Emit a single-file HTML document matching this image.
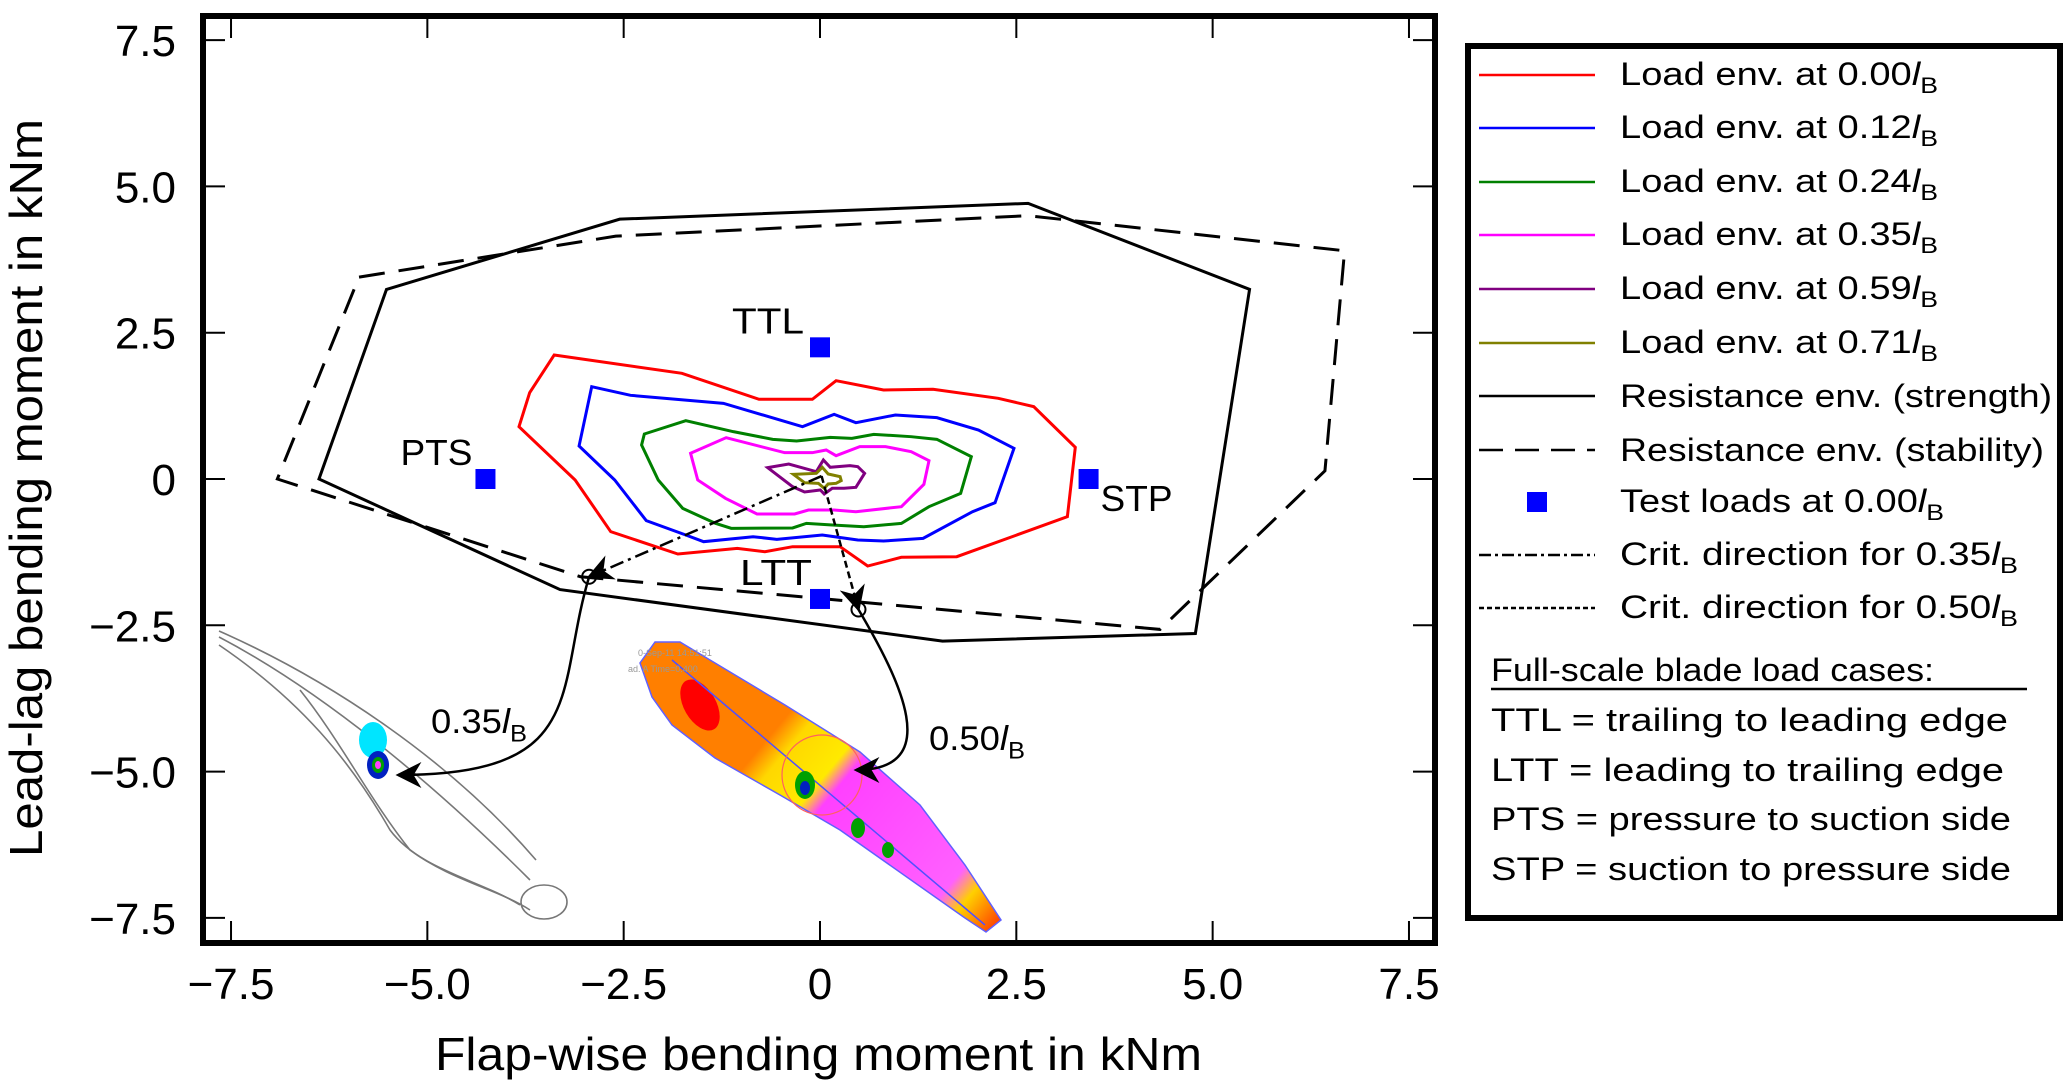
<!DOCTYPE html>
<html><head><meta charset="utf-8"><style>
html,body{margin:0;padding:0;background:#fff;}
svg text{font-family:"Liberation Sans",sans-serif;}
</style></head><body>
<svg id="chart" width="2067" height="1085" viewBox="0 0 2067 1085" xmlns="http://www.w3.org/2000/svg">
<defs>
<linearGradient id="bladeGrad" x1="655" y1="642" x2="1000" y2="930" gradientUnits="userSpaceOnUse">
<stop offset="0" stop-color="#ff7f00"/><stop offset="0.33" stop-color="#ff7f00"/>
<stop offset="0.38" stop-color="#ffd700"/><stop offset="0.48" stop-color="#ffea00"/>
<stop offset="0.52" stop-color="#ff40ff"/><stop offset="0.85" stop-color="#ff60ff"/>
<stop offset="0.9" stop-color="#ffd000"/><stop offset="1" stop-color="#ff3000"/>
</linearGradient>
<marker id="arrowBig" viewBox="0 0 10 10" refX="9" refY="5" markerWidth="26" markerHeight="26" orient="auto" markerUnits="userSpaceOnUse"><path d="M0,0 L10,5 L0,10 L3,5 z" fill="#000"/></marker>
</defs>
<g id="blades">
 <g fill="none" stroke="#777" stroke-width="1.6">
  <path d="M219,631 C330,680 450,760 536,860"/>
  <path d="M219,637 C320,690 430,780 530,880"/>
  <path d="M219,645 C300,700 350,760 390,830 C420,870 480,880 520,905"/>
  <path d="M300,690 C340,740 370,800 410,850 C450,880 500,890 530,910"/>
  <ellipse cx="544" cy="902" rx="23" ry="17"/>
  <ellipse cx="373" cy="740" rx="14" ry="18" fill="#00e5ff" stroke="none"/>
  <ellipse cx="378" cy="765" rx="11" ry="14" fill="#0020c0" stroke="none"/>
  <ellipse cx="378" cy="765" rx="6" ry="8" fill="#00a000" stroke="none"/>
  <ellipse cx="378" cy="765" rx="3" ry="4" fill="#ff40ff" stroke="none"/>
 </g>
 <g>
  <path d="M655,642 L680,642 L710,660 L785,705 L860,752 L920,805 L965,865 L1001,920 L986,932 L965,918 L840,830 L780,795 L715,758 L672,725 L652,697 L640,663 Z" fill="url(#bladeGrad)" stroke="#6060ff" stroke-width="1.5"/>
  <ellipse cx="700" cy="705" rx="16" ry="28" fill="#ff0000" transform="rotate(-30 700 705)"/>
  <path d="M672,660 L985,925" stroke="#5050ff" stroke-width="1.5" fill="none"/>
  <ellipse cx="805" cy="785" rx="10" ry="14" fill="#00a000"/>
  <ellipse cx="805" cy="788" rx="5" ry="7" fill="#0020c0"/>
  <ellipse cx="858" cy="828" rx="7" ry="10" fill="#00a000"/>
  <ellipse cx="888" cy="850" rx="6" ry="8" fill="#00a000"/>
  <circle cx="822" cy="775" r="40" fill="none" stroke="#ff6060" stroke-width="1.2"/>
  <text x="638" y="656" font-size="9" fill="#999">0-Sep-11 14:51:51</text>
  <text x="628" y="672" font-size="9" fill="#999">ad. A Time=0.400</text>
 </g>
</g>
<g id="marks"></g>
<g id="axes"></g>
<g id="legend"></g>
</svg>
<script>
// ---- data ----
const xTicks = [-7.5, -5.0, -2.5, 0, 2.5, 5.0, 7.5];
const xTickLabels = ["-7.5", "-5.0", "-2.5", "0", "2.5", "5.0", "7.5"];
const yTicks = [7.5, 5.0, 2.5, 0, -2.5, -5.0, -7.5];
const yTickLabels = ["7.5", "5.0", "2.5", "0", "-2.5", "-5.0", "-7.5"];
const env000 = [[-3.385,2.119],[-1.759,1.806],[-0.777,1.362],[-0.097,1.362],[0.205,1.680],[0.809,1.521],[1.439,1.533],[2.269,1.379],[2.722,1.236],[3.251,0.542],[3.15,-0.644],[1.741,-1.328],[1.036,-1.338],[0.607,-1.487],[0.256,-1.157],[-0.349,-1.157],[-0.702,-1.242],[-1.053,-1.185],[-1.81,-1.282],[-2.665,-0.900],[-3.118,-0.017],[-3.833,0.894],[-3.697,1.475]];
const env012 = [[-2.907,1.578],[-2.413,1.430],[-1.230,1.293],[-0.223,0.894],[0.180,1.105],[0.457,0.962],[0.960,1.094],[1.488,1.048],[2.018,0.837],[2.470,0.524],[2.229,-0.405],[1.942,-0.559],[1.313,-1.014],[0.810,-1.060],[0.481,-1.042],[0.029,-0.957],[-0.550,-1.031],[-0.852,-0.986],[-1.482,-1.071],[-1.709,-0.957],[-2.212,-0.712],[-2.614,-0.017],[-3.068,0.564]];
const env024 = [[-2.237,0.769],[-1.709,0.997],[-1.104,0.809],[-0.601,0.678],[-0.298,0.649],[0.130,0.712],[0.406,0.695],[0.684,0.763],[1.161,0.723],[1.488,0.678],[1.927,0.382],[1.791,-0.245],[1.388,-0.473],[1.036,-0.758],[0.558,-0.815],[0.156,-0.786],[-0.173,-0.758],[-0.349,-0.837],[-1.130,-0.843],[-1.331,-0.758],[-1.748,-0.502],[-2.060,-0.017],[-2.272,0.581]];
const env035 = [[-1.648,0.439],[-1.195,0.706],[-0.450,0.450],[-0.097,0.450],[0.079,0.496],[0.205,0.398],[0.507,0.553],[0.834,0.553],[1.161,0.467],[1.388,0.313],[1.323,-0.091],[1.036,-0.473],[0.457,-0.559],[0.180,-0.530],[-0.147,-0.530],[-0.323,-0.598],[-0.802,-0.598],[-1.204,-0.330],[-1.557,-0.017]];
const env059 = [[-0.666,0.194],[-0.398,0.256],[-0.047,0.125],[0.043,0.325],[0.130,0.200],[0.382,0.228],[0.481,0.211],[0.568,0.097],[0.457,-0.142],[0.306,-0.159],[0.156,-0.159],[0.054,-0.256],[0.004,-0.188],[-0.197,-0.222],[-0.349,-0.131]];
const env071 = [[-0.339,0.080],[-0.047,0.097],[0.029,0.200],[0.104,0.085],[0.256,0.040],[0.270,-0.028],[0.205,-0.074],[0.104,-0.085],[0.054,-0.159],[-0.021,-0.074],[-0.197,-0.063]];
const strength = [[-5.52,3.24],[-2.55,4.44],[2.65,4.71],[5.47,3.24],[4.78,-2.64],[1.56,-2.77],[-3.31,-1.89],[-6.38,0]];
const stability = [[-5.87,3.45],[-2.6,4.15],[2.65,4.50],[6.68,3.90],[6.43,0.14],[4.33,-2.57],[-3.05,-1.67],[-6.91,0]];
const testLoadNames = ["TTL", "PTS", "STP", "LTT"];
const testLoadX = [0, -4.26, 3.42, 0];
const testLoadY = [2.25, 0, 0, -2.05];
const critOrigin = [0.02, 0.05];
const crit035 = [-2.94, -1.67];
const crit050 = [0.49, -2.23];

// ---- axes functions ----
const X0 = 820, XS = 78.53, Y0 = 479, YS = 58.52;
const sx = v => X0 + v * XS;
const sy = v => Y0 - v * YS;
const NS = "http://www.w3.org/2000/svg";
function mk(tag, parent) { const e = document.createElementNS(NS, tag); parent.appendChild(e); return e; }
const marks = document.getElementById('marks');
const axes = document.getElementById('axes');
const legend = document.getElementById('legend');

function poly(pts, color, dash, name, w) {
  const p = mk('polygon', marks);
  
  
  p.setAttribute('points', pts.map(q => sx(q[0]) + ',' + sy(q[1])).join(' '));
  p.setAttribute('fill', 'none');
  p.setAttribute('stroke', color);
  p.setAttribute('stroke-width', w || 3);
  if (dash) p.setAttribute('stroke-dasharray', dash);
}
poly(strength, '#000', null, 'resistance-envelope-strength', 3);
poly(stability, '#000', '26,14', 'resistance-envelope-stability', 3);
poly(env000, '#ff0000', null, 'load-envelope-0-00', 3);
poly(env012, '#0000ff', null, 'load-envelope-0-12', 3);
poly(env024, '#008000', null, 'load-envelope-0-24', 3);
poly(env035, '#ff00ff', null, 'load-envelope-0-35', 3);
poly(env059, '#800080', null, 'load-envelope-0-59', 3);
poly(env071, '#808000', null, 'load-envelope-0-71', 3);

const labelOff = [[-88,-14],[-85,-14],[12,32],[-80,-14]];
for (let i = 0; i < testLoadX.length; i++) {
  const r = mk('rect', marks);
  
  
  r.setAttribute('x', sx(testLoadX[i]) - 10); r.setAttribute('y', sy(testLoadY[i]) - 10);
  r.setAttribute('width', 20); r.setAttribute('height', 20); r.setAttribute('fill', '#0000ff');
  const t = mk('text', marks);
  
  
  t.setAttribute('x', sx(testLoadX[i]) + labelOff[i][0]); t.setAttribute('y', sy(testLoadY[i]) + labelOff[i][1]);
  t.setAttribute('font-size', 36);
  t.setAttribute('textLength', 72);
  t.setAttribute('lengthAdjust', 'spacingAndGlyphs');
  t.textContent = testLoadNames[i];
}

function critLine(end, dash, name) {
  const l = mk('line', marks);
  
  
  l.setAttribute('x1', sx(critOrigin[0])); l.setAttribute('y1', sy(critOrigin[1]));
  l.setAttribute('x2', sx(end[0])); l.setAttribute('y2', sy(end[1]));
  l.setAttribute('stroke', '#000'); l.setAttribute('stroke-width', 2.5);
  l.setAttribute('stroke-dasharray', dash);
  l.setAttribute('marker-end', 'url(#arrowBig)');
  const c = mk('circle', marks);
  
  
  c.setAttribute('cx', sx(end[0])); c.setAttribute('cy', sy(end[1])); c.setAttribute('r', 7);
  c.setAttribute('fill', 'none'); c.setAttribute('stroke', '#000'); c.setAttribute('stroke-width', 2);
}
critLine(crit035, '14,5,3,5', 'critical-direction-0-35');
critLine(crit050, '7,4', 'critical-direction-0-50');

const a1 = mk('path', marks);


a1.setAttribute('d', 'M' + sx(crit035[0]) + ',' + sy(crit035[1]) + ' C555,690 590,775 398,775');
a1.setAttribute('fill', 'none'); a1.setAttribute('stroke', '#000'); a1.setAttribute('stroke-width', 2.5);
a1.setAttribute('marker-end', 'url(#arrowBig)');
const a2 = mk('path', marks);


a2.setAttribute('d', 'M' + sx(crit050[0]) + ',' + sy(crit050[1]) + ' C900,680 945,770 856,770');
a2.setAttribute('fill', 'none'); a2.setAttribute('stroke', '#000'); a2.setAttribute('stroke-width', 2.5);
a2.setAttribute('marker-end', 'url(#arrowBig)');

function lbText(parent, x, y, pre, fs, len, name) {
  const t = mk('text', parent);
  
  
  t.setAttribute('x', x); t.setAttribute('y', y); t.setAttribute('font-size', fs);
  if (len) { t.setAttribute('textLength', len); t.setAttribute('lengthAdjust', 'spacingAndGlyphs'); }
  const s1 = mk('tspan', t); s1.textContent = pre;
  const s2 = mk('tspan', t); s2.setAttribute('font-style', 'italic'); s2.textContent = 'l';
  const s3 = mk('tspan', t); s3.setAttribute('font-size', fs * 0.7); s3.setAttribute('dy', fs * 0.25); s3.textContent = 'B';
  return t;
}
lbText(marks, 431, 733, '0.35', 34, 96, 'callout-label-0-35');
lbText(marks, 929, 750, '0.50', 34, 96, 'callout-label-0-50');

const L = 203, R = 1435, T = 16, B = 943;
const fr = mk('rect', axes);


fr.setAttribute('x', L); fr.setAttribute('y', T); fr.setAttribute('width', R - L); fr.setAttribute('height', B - T);
fr.setAttribute('fill', 'none'); fr.setAttribute('stroke', '#000'); fr.setAttribute('stroke-width', 6);
for (let i = 0; i < xTicks.length; i++) {
  const x = sx(xTicks[i]);
  [[B - 3, B - 22], [T + 3, T + 22]].forEach(p => {
    const l = mk('line', axes);
    
    
    l.setAttribute('x1', x); l.setAttribute('x2', x); l.setAttribute('y1', p[0]); l.setAttribute('y2', p[1]);
    l.setAttribute('stroke', '#000'); l.setAttribute('stroke-width', 2);
  });
  const t = mk('text', axes);
  
  
  t.setAttribute('x', x); t.setAttribute('y', 999); t.setAttribute('font-size', 44);
  t.setAttribute('text-anchor', 'middle');
  t.textContent = xTickLabels[i].replace('-', '\u2212');
}
for (let i = 0; i < yTicks.length; i++) {
  const y = sy(yTicks[i]);
  [[L + 3, L + 22], [R - 3, R - 22]].forEach(p => {
    const l = mk('line', axes);
    
    
    l.setAttribute('x1', p[0]); l.setAttribute('x2', p[1]); l.setAttribute('y1', y); l.setAttribute('y2', y);
    l.setAttribute('stroke', '#000'); l.setAttribute('stroke-width', 2);
  });
  const t = mk('text', axes);
  
  
  t.setAttribute('x', 176); t.setAttribute('y', y + 16); t.setAttribute('font-size', 44);
  t.setAttribute('text-anchor', 'end');
  t.textContent = yTickLabels[i].replace('-', '\u2212');
}
const xt = mk('text', axes);


xt.setAttribute('x', 435); xt.setAttribute('y', 1070); xt.setAttribute('font-size', 46);
xt.setAttribute('textLength', 767); xt.setAttribute('lengthAdjust', 'spacingAndGlyphs');
xt.textContent = 'Flap-wise bending moment in kNm';
const yt = mk('text', axes);


yt.setAttribute('transform', 'translate(42,857) rotate(-90)'); yt.setAttribute('font-size', 46);
yt.setAttribute('textLength', 738); yt.setAttribute('lengthAdjust', 'spacingAndGlyphs');
yt.textContent = 'Lead-lag bending moment in kNm';

const legendLabels = ['0.00', '0.12', '0.24', '0.35', '0.59', '0.71'];
const legendColors = ['#ff0000', '#0000ff', '#008000', '#ff00ff', '#800080', '#808000'];
const legendY = [75, 128, 182, 235, 289, 343, 396, 450, 502, 555, 608];
const lb = mk('rect', legend);


lb.setAttribute('x', 1468); lb.setAttribute('y', 46); lb.setAttribute('width', 592); lb.setAttribute('height', 872);
lb.setAttribute('fill', '#fff'); lb.setAttribute('stroke', '#000'); lb.setAttribute('stroke-width', 6);
function legLine(y, color, dash, name) {
  const l = mk('line', legend);
  
  
  l.setAttribute('x1', 1479); l.setAttribute('x2', 1595); l.setAttribute('y1', y); l.setAttribute('y2', y);
  l.setAttribute('stroke', color); l.setAttribute('stroke-width', 2.5);
  if (dash) l.setAttribute('stroke-dasharray', dash);
}
for (let i = 0; i < legendLabels.length; i++) {
  legLine(legendY[i], legendColors[i], null, 'legend-entry-line');
  lbText(legend, 1620, legendY[i] + 10, 'Load env. at ' + legendLabels[i], 32, 318, 'legend-entry-label');
}
function legText(y, s, len, x) {
  const t = mk('text', legend);
  
  
  t.setAttribute('x', x || 1620); t.setAttribute('y', y); t.setAttribute('font-size', 32);
  t.setAttribute('textLength', len); t.setAttribute('lengthAdjust', 'spacingAndGlyphs');
  t.textContent = s;
}
legLine(legendY[6], '#000', null, 'legend-strength-line');
legText(legendY[6] + 11, 'Resistance env. (strength)', 432);
legLine(legendY[7], '#000', '24,12', 'legend-stability-line');
legText(legendY[7] + 11, 'Resistance env. (stability)', 424);
const lm = mk('rect', legend);


lm.setAttribute('x', 1527); lm.setAttribute('y', legendY[8] - 10); lm.setAttribute('width', 20); lm.setAttribute('height', 20); lm.setAttribute('fill', '#0000ff');
lbText(legend, 1620, legendY[8] + 10, 'Test loads at 0.00', 32, 324, 'legend-entry-label');
legLine(legendY[9], '#000', '12,4,3,4', 'legend-crit-035-line');
lbText(legend, 1620, legendY[9] + 10, 'Crit. direction for 0.35', 32, 398, 'legend-entry-label');
legLine(legendY[10], '#000', '5,3', 'legend-crit-050-line');
lbText(legend, 1620, legendY[10] + 10, 'Crit. direction for 0.50', 32, 398, 'legend-entry-label');
legText(681, 'Full-scale blade load cases:', 443, 1491);
const ul = mk('line', legend);


ul.setAttribute('x1', 1491); ul.setAttribute('x2', 2027); ul.setAttribute('y1', 689); ul.setAttribute('y2', 689);
ul.setAttribute('stroke', '#000'); ul.setAttribute('stroke-width', 2.5);
const rows = ['TTL = trailing to leading edge', 'LTT = leading to trailing edge', 'PTS = pressure to suction side', 'STP = suction to pressure side'];
const rowY = [731, 781, 830, 880];
const rowLen = [517, 513, 520, 520];
for (let i = 0; i < rows.length; i++) legText(rowY[i], rows[i], rowLen[i], 1491);
</script>
</body></html>
